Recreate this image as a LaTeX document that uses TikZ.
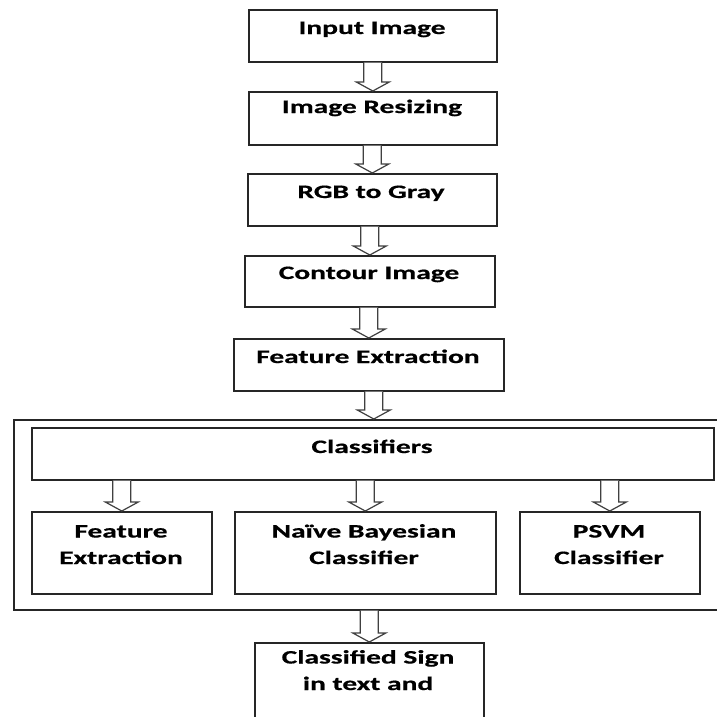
\documentclass[tikz,border=0pt]{standalone}
\usepackage{fontspec}
\newfontfamily\lab{Carlito}[FakeStretch=1.55, FakeBold=0.6]
\usetikzlibrary{calc}
\tikzset{
  box/.style={draw=black!85, line width=1.6pt, anchor=north west, inner sep=0pt},
  txt/.style={font=\lab\bfseries\fontsize{19}{26.5}\selectfont, align=center, inner sep=0pt, anchor=base, text=black},
  hollow/.style={draw=black!75, line width=1.2pt, fill=white, line join=miter},
}
\newcommand\harrow[2]{%
  \path let \p1=(#2.north), \p2=(#1.south) in
    coordinate (hA) at (\x1,\y2) coordinate (hB) at (\x1,\y1);
  \draw[hollow] let \p1=(hB), \p2=(hA) in
    (\x1-9pt,\y2) -- (\x1-9pt,\y1+9pt) -- (\x1-16.5pt,\y1+9pt) -- (\x1,\y1)
    -- (\x1+16.5pt,\y1+9pt) -- (\x1+9pt,\y1+9pt) -- (\x1+9pt,\y2);}
\begin{document}
\begin{tikzpicture}[x=1pt,y=-1pt]
\clip (0,0) rectangle (717,716);
\fill[white] (0,0) rectangle (717,716);
% top chain
\node[box, minimum width=248, minimum height=52] (b1) at (248,9) {};
\node[txt] (t1) at (372,34) {Input Image};
\node[box, minimum width=248, minimum height=53] (b2) at (248,91) {};
\node[txt] (t2) at (372,113) {Image Resizing};
\node[box, minimum width=249, minimum height=52] (b3) at (247,173) {};
\node[txt] (t3) at (371,198) {RGB to Gray};
\node[box, minimum width=250, minimum height=51] (b4) at (244,255) {};
\node[txt] (t4) at (369,279) {Contour Image};
\node[box, minimum width=270, minimum height=52] (b5) at (233,338) {};
\node[txt] (t5) at (368,363) {Feature Extraction};
% outer group
\node[box, minimum width=720, minimum height=190] (out) at (13,419) {};
\node[box, minimum width=682, minimum height=52] (cls) at (31,427) {};
\node[txt] (tc) at (372,453) {Classifiers};
\node[box, minimum width=180, minimum height=82] (c1) at (31,511) {};
\node[txt] (tc1) at (121,564) {Feature\\Extraction};
\node[box, minimum width=261, minimum height=82] (c2) at (234,511) {};
\node[txt] (tc2) at (364,564) {Naïve Bayesian\\Classifier};
\node[box, minimum width=180, minimum height=82] (c3) at (519,511) {};
\node[txt] (tc3) at (609,564) {PSVM\\Classifier};
% last box (cut by the page edge)
\node[box, minimum width=229, minimum height=100] (b6) at (254,642) {};
\node[txt] (t6) at (368,690) {Classified Sign\\in text and};
% arrows
\harrow{b1}{b2}
\harrow{b2}{b3}
\harrow{b3}{b4}
\harrow{b4}{b5}
\harrow{b5}{out}
\harrow{cls}{c1}
\harrow{cls}{c2}
\harrow{cls}{c3}
\harrow{out}{b6}
\end{tikzpicture}
\end{document}
